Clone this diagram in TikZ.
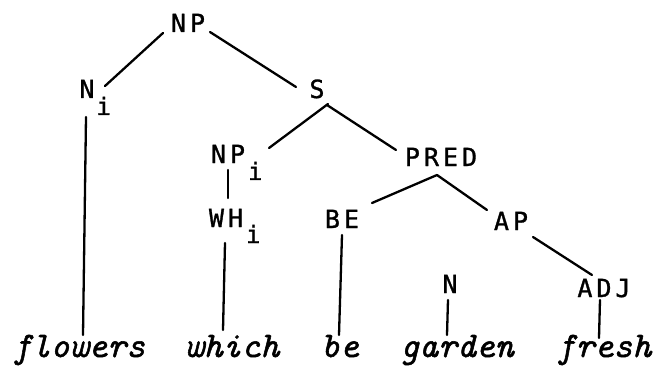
\documentclass[tikz,border=0pt]{standalone}
\usepackage{fontspec}
\usetikzlibrary{calc}
\newfontfamily\labfont[LetterSpace=16,FakeBold=1.2]{DejaVu Sans Mono}
\newfontfamily\subfont[FakeBold=1.2]{DejaVu Sans Mono}
\newfontfamily\wordfont[FakeBold=1.5]{lmmono10-italic.otf}
\newcommand{\idx}[2]{\rlap{\hspace{#1pt}\raisebox{-#2pt}{\fontsize{24}{28}\subfont i}}}
\begin{document}
\begin{tikzpicture}[x=1pt,y=-1pt,
  lab/.style={inner sep=0pt,anchor=base,font=\fontsize{25}{30}\labfont},
  word/.style={inner sep=0pt,anchor=base,font=\fontsize{36}{40}\wordfont},
  edge/.style={line width=2.3pt,line cap=round}]
\useasboundingbox (0,0) rectangle (654,369);
\node[lab] (np) at (188,32) {NP};
\node[lab] (ni) at (87,98) {N\idx{2}{17}};
\node[lab] (s) at (317,98) {S};
\node[lab] (npi) at (228,163) {NP\idx{3}{17}};
\node[lab] (wh) at (226,227) {WH\idx{3}{16}};
\node[lab] (pred) at (441,166) {PRED};
\node[lab] (be) at (342,228) {BE};
\node[lab] (ap) at (511,230) {AP};
\node[lab] (n) at (450,293) {N};
\node[lab] (adj) at (604,297) {ADJ};
\node[word] (w1) at (79,357) {flowers};
\node[word] (w2) at (232,357) {which};
\node[word] (w3) at (340,357) {be};
\node[word] (w4) at (457,357) {garden};
\node[word] (w5) at (604,357) {fresh};
\draw[edge] ($(np.base)+(-25,1)$) -- ($(ni.base)+(18,-12)$);
\draw[edge] ($(np.base)+(22,0)$) -- ($(s.base)+(-21,-11)$);
\draw[edge] ($(ni.base)+(-1,19)$) -- ($(w1.base)+(4,-22)$);
\draw[edge] ($(s.base)+(11,6)$) -- ($(npi.base)+(41,-15)$);
\draw[edge] ($(s.base)+(10,7)$) -- ($(pred.base)+(-45,-16)$);
\draw[edge] ($(npi.base)+(0,7)$) -- ($(wh.base)+(2,-29)$);
\draw[edge] ($(wh.base)+(-1,16)$) -- ($(w2.base)+(-9,-27)$);
\draw[edge] ($(pred.base)+(-4,9)$) -- ($(be.base)+(30,-25)$);
\draw[edge] ($(pred.base)+(-4,9)$) -- ($(ap.base)+(-24,-20)$);
\draw[edge] ($(be.base)+(0,7)$) -- ($(w3.base)+(-1,-22)$);
\draw[edge] ($(ap.base)+(22,7)$) -- ($(adj.base)+(-12,-22)$);
\draw[edge] ($(n.base)+(-2,7)$) -- ($(w4.base)+(-10,-22)$);
\draw[edge] ($(adj.base)+(-4,3)$) -- ($(w5.base)+(-5,-19)$);
\end{tikzpicture}
\end{document}
